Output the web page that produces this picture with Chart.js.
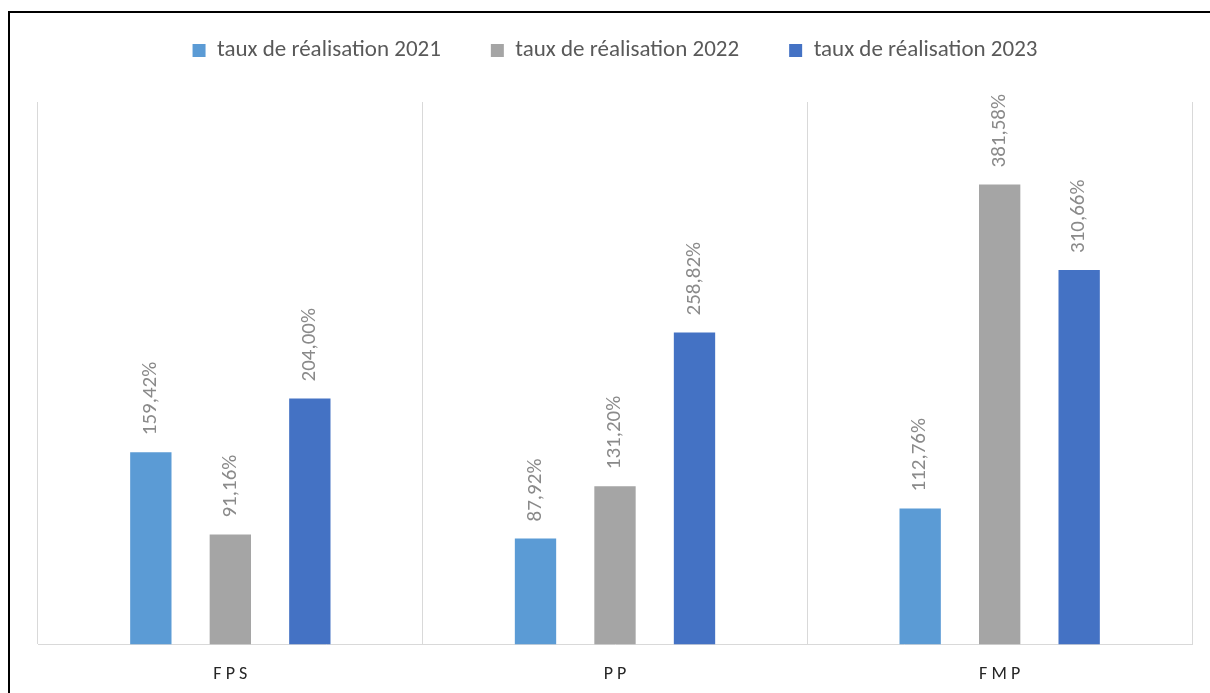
<!DOCTYPE html>
<html lang="fr">
  <head>
    <meta charset="UTF-8" />
    <title>Taux de réalisation</title>
    <script src="https://cdn.jsdelivr.net/npm/chart.js"></script>
    <style>
      html,
      body {
        margin: 0;
        padding: 0;
        background: #ffffff;
        overflow: hidden;
      }
      .frame {
        position: absolute;
        left: 8px;
        top: 11px;
        width: 1300px;
        height: 800px;
        border-top: 2px solid #000;
        border-left: 2px solid #000;
        pointer-events: none;
      }
      .chart-box {
        position: absolute;
        left: 0;
        top: 0;
        width: 1210px;
        height: 693px;
      }
    </style>
  </head>
  <body>
    <div class="chart-box"><canvas id="barChart"></canvas></div>
    <div class="frame"></div>

    <script>
      // Données du graphique
      const categories = ["FPS", "PP", "FMP"];
      const taux2021 = [159.42, 87.92, 112.76];
      const taux2022 = [91.16, 131.2, 381.58];
      const taux2023 = [204.0, 258.82, 310.66];
      const seriesNames = [
        "taux de réalisation 2021",
        "taux de réalisation 2022",
        "taux de réalisation 2023",
      ];

      const fontFamily = "Calibri, Carlito, Lato, sans-serif";

      // étiquettes verticales au-dessus des barres
      const valueLabels = {
        id: "valueLabels",
        afterDatasetsDraw(chart) {
          const ctx = chart.ctx;
          ctx.save();
          ctx.fillStyle = "#8a8a8a";
          ctx.font = "21px " + fontFamily;
          ctx.textAlign = "left";
          ctx.textBaseline = "middle";
          chart.data.datasets.forEach((ds, i) => {
            const meta = chart.getDatasetMeta(i);
            meta.data.forEach((bar, j) => {
              const txt = ds.data[j].toFixed(2).replace(".", ",") + "%";
              ctx.save();
              ctx.translate(bar.x, bar.y - 17);
              ctx.rotate(-Math.PI / 2);
              ctx.fillText(txt, 0, 0);
              ctx.restore();
            });
          });
          ctx.restore();
        },
      };

      // espace entre la légende et la zone du graphique
      const legendSpace = {
        id: "legendSpace",
        beforeInit(chart) {
          const fit = chart.legend.fit;
          chart.legend.fit = function () {
            fit.bind(chart.legend)();
            this.height += 30;
          };
        },
      };

      const ctx = document.getElementById("barChart").getContext("2d");
      new Chart(ctx, {
        type: "bar",
        data: {
          labels: categories,
          datasets: [
            {
              label: seriesNames[0],
              data: taux2021,
              backgroundColor: "#5B9BD5",
              borderWidth: 0,
            },
            {
              label: seriesNames[1],
              data: taux2022,
              backgroundColor: "#A5A5A5",
              borderWidth: 0,
            },
            {
              label: seriesNames[2],
              data: taux2023,
              backgroundColor: "#4472C4",
              borderWidth: 0,
            },
          ],
        },
        options: {
          responsive: true,
          maintainAspectRatio: false,
          animation: false,
          categoryPercentage: 0.62,
          barPercentage: 0.52,
          layout: {
            padding: { top: -11, left: 38, right: 18, bottom: -11 },
          },
          plugins: {
            legend: {
              position: "top",
              labels: {
                boxWidth: 13,
                boxHeight: 13,
                padding: 50,
                color: "#595959",
                font: { family: fontFamily, size: 23 },
              },
            },
            tooltip: { enabled: false },
          },
          scales: {
            x: {
              grid: {
                color: "#d9d9d9",
                lineWidth: 1,
                drawTicks: false,
              },
              border: { color: "#d9d9d9" },
              ticks: {
                padding: 19,
                color: "#262626",
                font: { family: fontFamily, size: 18 },
                callback: function (value) {
                  return this.getLabelForValue(value).split("").join(" ");
                },
              },
            },
            y: {
              display: false,
              min: 0,
              max: 450,
            },
          },
        },
        plugins: [valueLabels, legendSpace],
      });
    </script>
  </body>
</html>
